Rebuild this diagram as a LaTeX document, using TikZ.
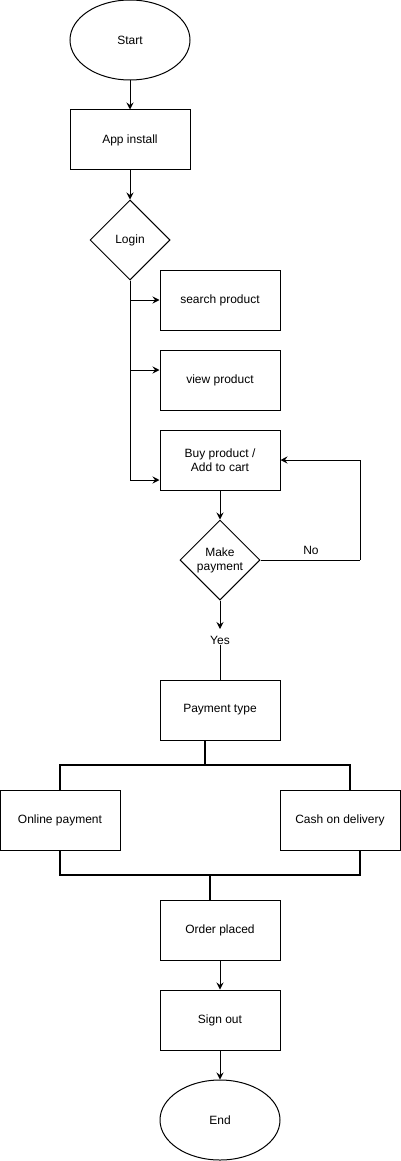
\documentclass[tikz,border=0pt]{standalone}
\usepackage{fontspec}
\setmainfont{Liberation Sans}
\usetikzlibrary{shapes.geometric,arrows.meta}
\begin{document}
\begin{tikzpicture}[x=1pt,y=-1pt,
  base/.style={draw=black,line width=1pt,fill=white,font=\fontsize{12}{14}\selectfont,align=center,inner sep=0pt},
  procbox/.style={base,rectangle,minimum width=120pt,minimum height=60pt},
  term/.style={base,ellipse,minimum width=120pt,minimum height=80pt},
  decide/.style={base,diamond,minimum width=80pt,minimum height=80pt},
  arr/.style={line width=1pt,-{Stealth[length=7pt,width=7pt,inset=2.5pt]}},
  thick line/.style={line width=2pt},
  lbl/.style={font=\fontsize{12}{14}\selectfont,inner sep=1pt}]
\useasboundingbox (0,0) rectangle (401,1161);
\node[term] (start) at (130,40) {Start};
\node[procbox] (install) at (130,140) {App install};
\node[decide] (login) at (130,240) {Login};
\node[procbox] (search) at (220,300) {search product};
\node[procbox] (view) at (220,380) {view product};
\node[procbox] (buy) at (220,460) {Buy product /\\Add to cart};
\node[decide] (pay) at (220,560) {Make\\payment};
\node[lbl] (yes) at (220,640) {Yes};
\node[lbl] (no) at (311,550) {No};
\node[procbox] (ptype) at (220,710) {Payment type};
\node[procbox] (online) at (60,820) {Online payment};
\node[procbox] (cash) at (340,820) {Cash on delivery};
\node[procbox] (order) at (220,930) {Order placed};
\node[procbox] (signout) at (220,1020) {Sign out};
\node[term] (end) at (220,1120) {End};
\coordinate (yesIn) at (220,629);
\coordinate (loopR1) at (360,560);
\coordinate (loopR2) at (360,460);
\coordinate (splitT) at (205,765);
\coordinate (joinB) at (210,875);

\draw[arr] (start) -- (install);
\draw[arr] (install) -- (login);
\draw[arr] (login.south) |- (search.west);
\draw[arr] (login.south) |- ([yshift=10pt]view.west);
\draw[arr] (login.south) |- ([yshift=-20pt]buy.west);
\draw[arr] (buy) -- (pay);
\draw[line width=1pt] (pay.east) -- (loopR1);
\draw[arr] (loopR1) -- (loopR2) -- (buy.east);
\draw[arr] (pay.south) -- (yesIn);
\draw[line width=1pt] (yes.south) -- (ptype.north);
\draw[thick line] (ptype.south -| splitT) -- (splitT);
\draw[thick line] (online.north) |- (splitT) -| ([xshift=10pt]cash.north);
\draw[thick line] (online.south) |- (joinB);
\draw[thick line] ([xshift=20pt]cash.south) |- (joinB);
\draw[thick line] (joinB) -- (order.north -| joinB);
\draw[arr] (order) -- (signout);
\draw[arr] (signout) -- (end);
\end{tikzpicture}
\end{document}
